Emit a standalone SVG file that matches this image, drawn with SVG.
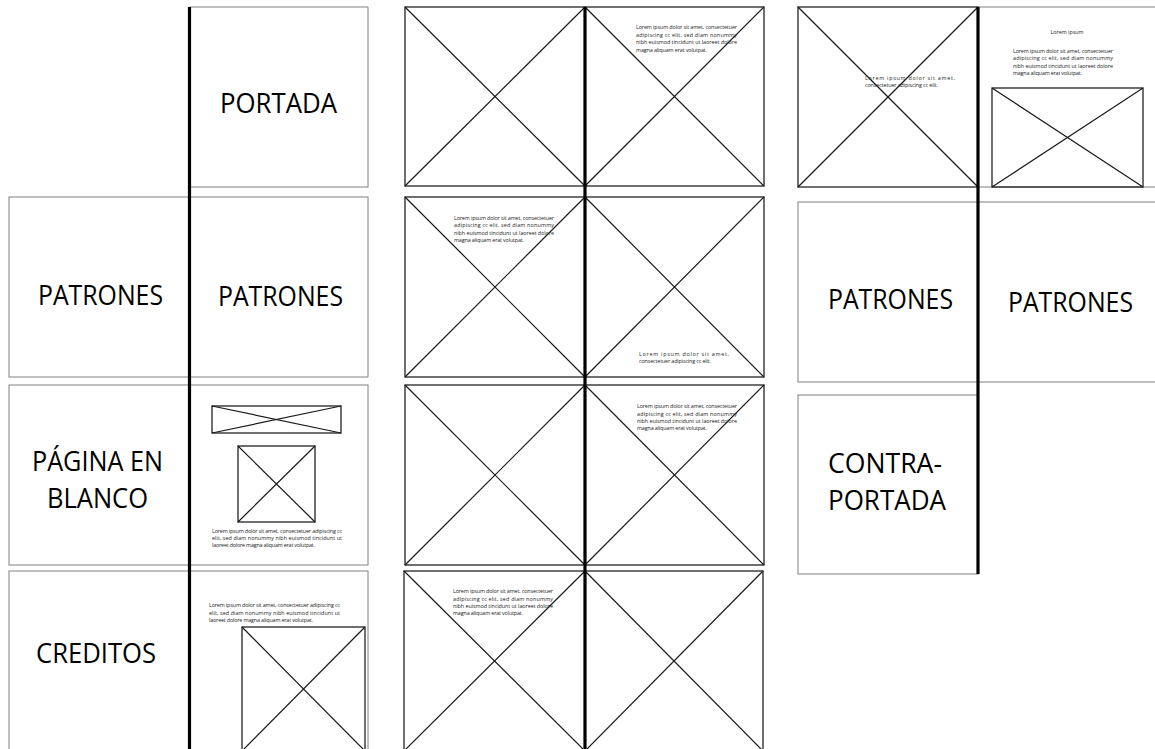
<svg xmlns="http://www.w3.org/2000/svg" width="1155" height="749" viewBox="0 0 1155 749">
<style>
.pg{fill:#fff;stroke:#808080;stroke-width:1}
.pgd{fill:#fff;stroke:#333;stroke-width:1.4}
.img{fill:none;stroke:#222;stroke-width:1.3}
.x{stroke:#1a1a1a;stroke-width:1.2}
.spine{stroke:#000;stroke-width:3.2}
.lbl{font-family:"Open Sans","Liberation Sans",sans-serif;font-size:28px;fill:#000}
.t{font-family:"Open Sans","Liberation Sans",sans-serif;font-size:5.4px;fill:#222}
</style>
<rect width="1155" height="749" fill="#fff"/>

<!-- LEFT SPREADS -->
<g id="portada">
<rect class="pg" x="190" y="7" width="178" height="180"/>
<text class="lbl" x="220" y="113" textLength="117" lengthAdjust="spacingAndGlyphs">PORTADA</text>
</g>
<g id="patrones-l1">
<rect class="pg" x="9" y="197" width="180" height="180"/>
<text class="lbl" x="38" y="305" textLength="125" lengthAdjust="spacingAndGlyphs">PATRONES</text>
</g>
<g id="patrones-r1">
<rect class="pg" x="190" y="197" width="178" height="180"/>
<text class="lbl" x="218" y="306" textLength="125" lengthAdjust="spacingAndGlyphs">PATRONES</text>
</g>
<g id="pagina-blanco">
<rect class="pg" x="9" y="385" width="180" height="180"/>
<text class="lbl" x="32" y="471" textLength="131" lengthAdjust="spacingAndGlyphs">PÁGINA EN</text>
<text class="lbl" x="47" y="508" textLength="101" lengthAdjust="spacingAndGlyphs">BLANCO</text>
</g>
<g id="pagina-contenido">
<rect class="pg" x="190" y="385" width="178" height="180"/>
<rect class="img" x="212" y="406" width="129" height="27"/>
<line class="x" x1="212" y1="406" x2="341" y2="433"/><line class="x" x1="341" y1="406" x2="212" y2="433"/>
<rect class="img" x="238" y="446" width="77" height="76"/>
<line class="x" x1="238" y1="446" x2="315" y2="522"/><line class="x" x1="315" y1="446" x2="238" y2="522"/>
<text class="t" x="212" y="533" textLength="130" lengthAdjust="spacing">Lorem ipsum dolor sit amet, consectetuer adipiscing cc</text>
<text class="t" x="212" y="540" textLength="130" lengthAdjust="spacing">elit, sed diam nonummy nibh euismod tincidunt ut</text>
<text class="t" x="212" y="547" textLength="103" lengthAdjust="spacing">laoreet dolore magna aliquam erat volutpat.</text>
</g>
<g id="creditos">
<rect class="pg" x="9" y="571" width="180" height="180"/>
<text class="lbl" x="36" y="663" textLength="120" lengthAdjust="spacingAndGlyphs">CREDITOS</text>
</g>
<g id="creditos-contenido">
<rect class="pg" x="190" y="571" width="178" height="180"/>
<text class="t" x="209" y="607" textLength="131" lengthAdjust="spacing">Lorem ipsum dolor sit amet, consectetuer adipiscing cc</text>
<text class="t" x="209" y="615" textLength="131" lengthAdjust="spacing">elit, sed diam nonummy nibh euismod tincidunt ut</text>
<text class="t" x="209" y="622" textLength="104" lengthAdjust="spacing">laoreet dolore magna aliquam erat volutpat.</text>
<rect class="img" x="242" y="627" width="123" height="124"/>
<line class="x" x1="242" y1="627" x2="365" y2="751"/><line class="x" x1="365" y1="627" x2="242" y2="751"/>
</g>

<!-- MIDDLE SPREADS -->
<g id="m1l">
<rect class="pgd" x="405" y="7" width="180" height="179"/>
<line class="x" x1="405" y1="7" x2="585" y2="186"/><line class="x" x1="585" y1="7" x2="405" y2="186"/>
</g>
<g id="m1r">
<rect class="pgd" x="585" y="7" width="179" height="179"/>
<line class="x" x1="585" y1="7" x2="764" y2="186"/><line class="x" x1="764" y1="7" x2="585" y2="186"/>
<text class="t" x="636" y="29" textLength="101" lengthAdjust="spacing">Lorem ipsum dolor sit amet, consectetuer</text>
<text class="t" x="636" y="37" textLength="101" lengthAdjust="spacing">adipiscing cc elit, sed diam nonummy</text>
<text class="t" x="636" y="44" textLength="101" lengthAdjust="spacing">nibh euismod tincidunt ut laoreet dolore</text>
<text class="t" x="636" y="52" textLength="71" lengthAdjust="spacing">magna aliquam erat volutpat.</text>
</g>
<g id="m2l">
<rect class="pgd" x="405" y="197" width="180" height="180"/>
<line class="x" x1="405" y1="197" x2="585" y2="377"/><line class="x" x1="585" y1="197" x2="405" y2="377"/>
<text class="t" x="454" y="220" textLength="100" lengthAdjust="spacing">Lorem ipsum dolor sit amet, consectetuer</text>
<text class="t" x="454" y="227" textLength="100" lengthAdjust="spacing">adipiscing cc elit, sed diam nonummy</text>
<text class="t" x="454" y="235" textLength="100" lengthAdjust="spacing">nibh euismod tincidunt ut laoreet dolore</text>
<text class="t" x="454" y="242" textLength="70" lengthAdjust="spacing">magna aliquam erat volutpat.</text>
</g>
<g id="m2r">
<rect class="pgd" x="585" y="197" width="179" height="180"/>
<line class="x" x1="585" y1="197" x2="764" y2="377"/><line class="x" x1="764" y1="197" x2="585" y2="377"/>
<text class="t" x="639" y="356" textLength="90" lengthAdjust="spacing">Lorem ipsum dolor sit amet,</text>
<text class="t" x="639" y="363" textLength="72" lengthAdjust="spacing">consectetuer adipiscing cc elit.</text>
</g>
<g id="m3l">
<rect class="pgd" x="405" y="385" width="180" height="180"/>
<line class="x" x1="405" y1="385" x2="585" y2="565"/><line class="x" x1="585" y1="385" x2="405" y2="565"/>
</g>
<g id="m3r">
<rect class="pgd" x="585" y="385" width="179" height="180"/>
<line class="x" x1="585" y1="385" x2="764" y2="565"/><line class="x" x1="764" y1="385" x2="585" y2="565"/>
<text class="t" x="637" y="408" textLength="100" lengthAdjust="spacing">Lorem ipsum dolor sit amet, consectetuer</text>
<text class="t" x="637" y="416" textLength="100" lengthAdjust="spacing">adipiscing cc elit, sed diam nonummy</text>
<text class="t" x="637" y="423" textLength="100" lengthAdjust="spacing">nibh euismod tincidunt ut laoreet dolore</text>
<text class="t" x="637" y="430" textLength="70" lengthAdjust="spacing">magna aliquam erat volutpat.</text>
</g>
<g id="m4l">
<rect class="pgd" x="404" y="571" width="181" height="180"/>
<line class="x" x1="404" y1="571" x2="585" y2="751"/><line class="x" x1="585" y1="571" x2="404" y2="751"/>
<text class="t" x="453" y="593" textLength="100" lengthAdjust="spacing">Lorem ipsum dolor sit amet, consectetuer</text>
<text class="t" x="453" y="601" textLength="100" lengthAdjust="spacing">adipiscing cc elit, sed diam nonummy</text>
<text class="t" x="453" y="608" textLength="100" lengthAdjust="spacing">nibh euismod tincidunt ut laoreet dolore</text>
<text class="t" x="453" y="615" textLength="70" lengthAdjust="spacing">magna aliquam erat volutpat.</text>
</g>
<g id="m4r">
<rect class="pgd" x="585" y="571" width="178" height="180"/>
<line class="x" x1="585" y1="571" x2="763" y2="751"/><line class="x" x1="763" y1="571" x2="585" y2="751"/>
</g>

<!-- RIGHT SPREADS -->
<g id="r1l">
<rect class="pgd" x="798" y="7" width="180" height="180"/>
<line class="x" x1="798" y1="7" x2="978" y2="187"/><line class="x" x1="978" y1="7" x2="798" y2="187"/>
<text class="t" x="865" y="80" textLength="90" lengthAdjust="spacing">Lorem ipsum dolor sit amet,</text>
<text class="t" x="865" y="87" textLength="73" lengthAdjust="spacing">consectetuer adipiscing cc elit.</text>
</g>
<g id="r1r">
<rect class="pg" x="978" y="7" width="190" height="180"/>
<text class="t" x="1067" y="34" text-anchor="middle">Lorem ipsum</text>
<text class="t" x="1013" y="53" textLength="100" lengthAdjust="spacing">Lorem ipsum dolor sit amet, consectetuer</text>
<text class="t" x="1013" y="60" textLength="100" lengthAdjust="spacing">adipiscing cc elit, sed diam nonummy</text>
<text class="t" x="1013" y="68" textLength="100" lengthAdjust="spacing">nibh euismod tincidunt ut laoreet dolore</text>
<text class="t" x="1013" y="75" textLength="69" lengthAdjust="spacing">magna aliquam erat volutpat.</text>
<rect class="img" x="992" y="88" width="151" height="99"/>
<line class="x" x1="992" y1="88" x2="1143" y2="187"/><line class="x" x1="1143" y1="88" x2="992" y2="187"/>
</g>
<g id="r2l">
<rect class="pg" x="798" y="202" width="180" height="180"/>
<text class="lbl" x="828" y="309" textLength="125" lengthAdjust="spacingAndGlyphs">PATRONES</text>
</g>
<g id="r2r">
<rect class="pg" x="978" y="202" width="190" height="180"/>
<text class="lbl" x="1008" y="312" textLength="125" lengthAdjust="spacingAndGlyphs">PATRONES</text>
</g>
<g id="contraportada">
<rect class="pg" x="798" y="395" width="180" height="179"/>
<text class="lbl" x="828" y="473" textLength="114" lengthAdjust="spacingAndGlyphs">CONTRA-</text>
<text class="lbl" x="828" y="510" textLength="118" lengthAdjust="spacingAndGlyphs">PORTADA</text>
</g>

<g id="connectors">
<line class="spine" x1="189.5" y1="7" x2="189.5" y2="749"/>
<line class="spine" x1="585" y1="7" x2="585" y2="749"/>
<line class="spine" x1="978" y1="7" x2="978" y2="574"/>
</g>
</svg>
